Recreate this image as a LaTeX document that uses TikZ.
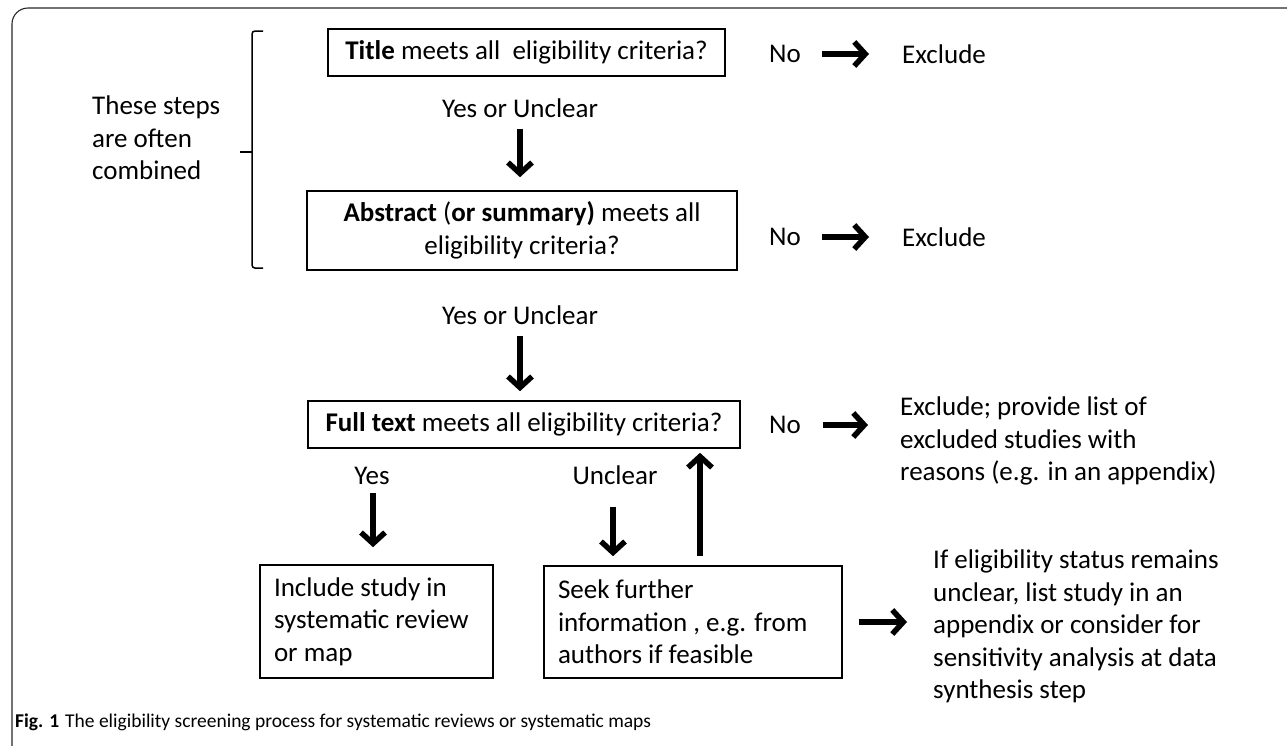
\documentclass[tikz,border=0pt]{standalone}
\usepackage{fontspec}
\setmainfont{Carlito}
\usetikzlibrary{arrows.meta}
\begin{document}
\begin{tikzpicture}[x=1pt,y=-1pt,
  txt/.style={inner sep=0pt, font=\fontsize{27}{32.5}\selectfont},
  box/.style={draw, line width=1.6pt, inner xsep=0pt, inner ysep=0pt, align=center, font=\fontsize{27}{32.5}\selectfont},
  lbox/.style={box, align=flush left, inner xsep=14pt},
  para/.style={txt, align=flush left, anchor=north west},
  arr/.style={draw=black, line width=5.5pt, -{Straight Barb[length=11pt,width=24pt,line width=5.5pt]}},
  brace/.style={line width=1.5pt, rounded corners=3pt},
  frame/.style={line width=1.1pt, draw=black!85, rounded corners=16pt}]
\useasboundingbox (0,0) rectangle (1287,745);
\clip (0,0) rectangle (1287,745);
\draw[frame] (1300,8) -- (12,8) -- (12,765) -- (60,765);

% left note and bracket
\node[para] (note) at (92,96) {These steps\\are often\\combined};
\draw[brace] (263,31) -- (252,31) -- (252,268) -- (263,268);
\draw[brace] (252,152) -- (240,152);

% boxes
\node[box, minimum width=397pt, minimum height=47pt] (title) at (526.5,52.5) {\textbf{Title} meets all \ eligibility criteria?};
\node[box, minimum width=430pt, minimum height=79pt] (abs) at (522,230.5) {\textbf{Abstract} (\textbf{or summary)} meets all\\eligibility criteria?};
\node[box, minimum width=432pt, minimum height=47pt] (full) at (524,424.5) {\textbf{Full text} meets all eligibility criteria?};
\node[lbox, text width=205pt, minimum height=113pt] (inc) at (376.5,621.5) {Include study in\\systematic review\\or map};
\node[lbox, text width=270pt, minimum height=112pt] (seek) at (693,622) {Seek further\\information , e.g. from\\authors if feasible};

% labels
\node[txt] (yu1) at (520,108) {Yes or Unclear};
\node[txt] (yu2) at (520,315) {Yes or Unclear};
\node[txt] (yes) at (372,476) {Yes};
\node[txt] (unc) at (615,475) {Unclear};
\node[txt] (no1) at (785,54) {No};
\node[txt] (no2) at (785,237) {No};
\node[txt] (no3) at (785,425) {No};
\node[txt, anchor=west] (ex1) at (902,54) {Exclude};
\node[txt, anchor=west] (ex2) at (902,237) {Exclude};
\node[para] (ex3) at (900,397) {Exclude; provide list of\\excluded studies with\\reasons (e.g. in an appendix)};
\node[para] (ifs) at (933,550) {If eligibility status remains\\unclear, list study in an\\appendix or consider for\\sensitivity analysis at data\\synthesis step};

% connectors
\draw[arr, shorten <=11pt, shorten >=13pt] (yu1.south) -- (yu1.south |- abs.north);
\draw[arr, shorten <=11pt, shorten >=9pt] (yu2.south) -- (yu2.south |- full.north);
\draw[arr, shorten <=8pt, shorten >=17pt] ([xshift=1pt]yes.south) -- ([xshift=1pt]yes.south |- inc.north);
\draw[arr, shorten <=22pt, shorten >=9pt] ([xshift=-2pt]unc.south) -- ([xshift=-2pt]unc.south |- seek.north);
\draw[arr, shorten <=9pt, shorten >=4pt] ([xshift=7pt]seek.north) -- ([xshift=7pt]seek.north |- full.south);
\draw[arr, shorten <=21pt, shorten >=33pt] (no1.east) -- (no1.east -| ex1.west);
\draw[arr, shorten <=21pt, shorten >=33pt] (no2.east) -- (no2.east -| ex2.west);
\draw[arr, shorten <=22pt, shorten >=32pt] (no3.east) -- (no3.east -| ex3.west);
\draw[arr, shorten <=16pt, shorten >=26pt] (seek.east) -- (seek.east -| ifs.west);

% caption
\node[inner sep=0pt, anchor=base west, font=\fontsize{19.5}{22}\selectfont] (cap) at (15,727) {\textbf{Fig. 1}\hspace{6pt}The eligibility screening process for systematic reviews or systematic maps};
\end{tikzpicture}
\end{document}
